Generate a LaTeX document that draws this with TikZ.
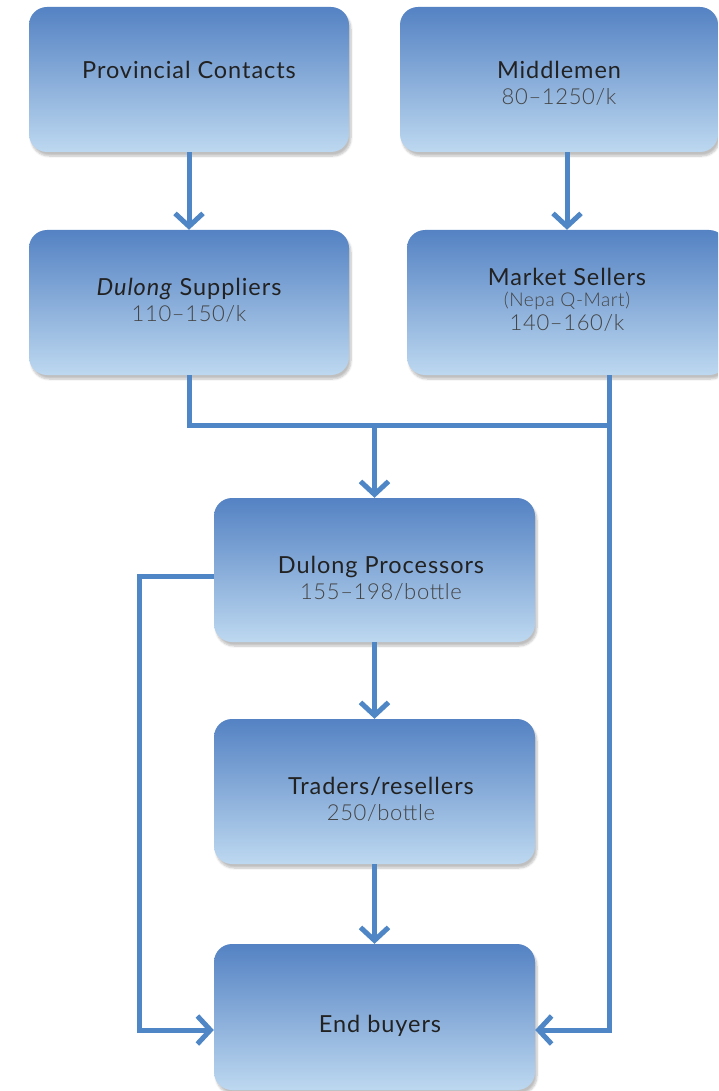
\documentclass[tikz,border=0pt]{standalone}
\usepackage{fontspec}
\setmainfont{Lato}[LetterSpace=4]
\newfontfamily\lightfont{Lato Light}[LetterSpace=3]
\usetikzlibrary{arrows.meta,shadows.blur,calc}
\definecolor{topblue}{HTML}{5482C3}
\definecolor{botblue}{HTML}{BDD8F0}
\definecolor{linkblue}{HTML}{4E86C6}
\definecolor{titlec}{HTML}{222222}
\definecolor{subc}{HTML}{444444}
\tikzset{
  box/.style={rounded corners=18pt, top color=topblue, bottom color=botblue, draw=none,
    minimum height=145pt,
    blur shadow={shadow blur steps=6, shadow xshift=2pt, shadow yshift=-4pt, shadow opacity=25}},
  txt/.style={align=center, text=titlec, inner sep=0pt, font=\fontsize{23.5}{26}\selectfont},
  link/.style={draw=linkblue, line width=5pt},
  arr/.style={link, -{Straight Barb[length=13pt,width=28pt]}},
}
\newcommand{\sub}[1]{{\lightfont\fontsize{22}{26}\selectfont\color{subc}#1}}
\begin{document}
\begin{tikzpicture}[x=1pt,y=-1pt]
\useasboundingbox (0,0) rectangle (718,1091);
\begin{scope}
\clip (0,0) rectangle (718,1091);
\node[box, minimum width=320pt] (prov) at (189,79.5) {};
\node[box, minimum width=318pt] (mid) at (559,79.5) {};
\node[box, minimum width=320pt] (sup) at (189,302.5) {};
\node[box, minimum width=320pt] (mkt) at (567,302.5) {};
\node[box, minimum width=321pt, minimum height=144pt] (proc) at (374.5,570) {};
\node[box, minimum width=321pt] (trad) at (374.5,791.5) {};
\node[box, minimum width=321pt, minimum height=146pt] (end) at (374.5,1017) {};
\end{scope}
\node[txt] (provT) at (189,70) {Provincial Contacts};
\node[txt] (midT) at (559,83) {Middlemen\\\sub{80–1250/k}};
\node[txt] (supT) at (189,300.5) {\textit{Dulong} Suppliers\\\sub{110–150/k}};
\node[txt] (mktT) at (567,300) {Market Sellers\\[-5pt]{\lightfont\fontsize{19}{20}\selectfont\color{subc}(Nepa Q-Mart)}\\[-2pt]\sub{140–160/k}};
\node[txt] (procT) at (381,578.5) {Dulong Processors\\\sub{155–198/bottle}};
\node[txt] (tradT) at (381,799.5) {Traders/resellers\\\sub{250/bottle}};
\node[txt] (endT) at (380,1026) {End buyers};
\coordinate (mk) at (609,375);
\coordinate (jr) at (609,425);
\coordinate (j) at (374.5,425);
\coordinate (lc) at (139,576);
\draw[arr] (prov.south) -- (sup.north);
\draw[arr] (mid.south -| mkt.north) -- (mkt.north);
\draw[link] (sup.south) |- (jr);
\draw[arr] (j) -- (proc.north);
\draw[arr] (mk) |- ([yshift=-13pt]end.east);
\draw[arr] ([yshift=-6pt]proc.west) -- (lc) |- ([yshift=-13pt]end.west);
\draw[arr] (proc.south) -- (trad.north);
\draw[arr] (trad.south) -- (end.north);
\end{tikzpicture}
\end{document}
